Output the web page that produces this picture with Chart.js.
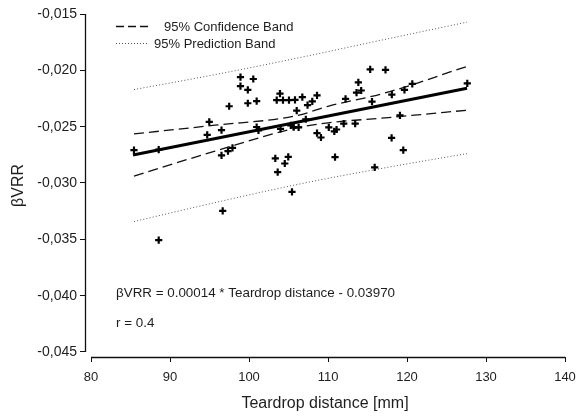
<!DOCTYPE html>
<html>
<head>
<meta charset="utf-8">
<script src="https://cdn.jsdelivr.net/npm/chart.js@4/dist/chart.umd.min.js"></script>
<style>
  html, body { margin: 0; padding: 0; background: #fff; }
  #wrap { width: 578px; height: 418px; position: relative; }
</style>
</head>
<body>
<div id="wrap"><canvas id="c" width="578" height="418"></canvas></div>
<script>
// ---- data ----
const pointX = [85.44, 88.57, 88.57, 94.71, 94.97, 96.52, 96.52, 96.67, 97.34, 97.49,
  97.91, 98.92, 98.92, 99.85, 99.85, 100.54, 100.97, 100.97, 101.20, 103.33,
  103.51, 103.63, 103.92, 103.99, 104.30, 104.53, 104.97, 105.06, 105.29, 105.44,
  105.66, 105.82, 106.04, 106.28, 106.75, 107.19, 107.41, 108.01, 108.61, 108.61,
  109.11, 110.10, 110.80, 110.89, 111.08, 111.99, 112.22, 113.44, 113.61, 113.84,
  114.20, 115.34, 115.57, 115.91, 117.28, 118.08, 118.05, 119.11, 119.53, 119.68,
  120.67, 127.63];
const pointY = [-0.02708, -0.02704, -0.03507, -0.02573, -0.02458, -0.02531, -0.02755, -0.03248, -0.02717, -0.02319,
  -0.02688, -0.02060, -0.02140, -0.02174, -0.02292, -0.02077, -0.02273, -0.02503, -0.02533, -0.02781,
  -0.02264, -0.02903, -0.02206, -0.02520, -0.02264, -0.02827, -0.02768, -0.02264, -0.02489, -0.03078,
  -0.02504, -0.02263, -0.02358, -0.02507, -0.02237, -0.02434, -0.02308, -0.02276, -0.02223, -0.02558,
  -0.02596, -0.02507, -0.02542, -0.02770, -0.02525, -0.02473, -0.02254, -0.02473, -0.02197, -0.02106,
  -0.02179, -0.01991, -0.02277, -0.02861, -0.01996, -0.02215, -0.02599, -0.02400, -0.02708, -0.02173,
  -0.02121, -0.02115];

const fitX = [85.32, 127.6];
const fitY = [-0.02752, -0.02159];

const confX = [85.44, 95.70, 105.95, 110.0, 117.22, 127.6];
const confUpperY = [-0.02564, -0.02487, -0.02404, -0.02319, -0.02201, -0.01965];
const confLowerY = [-0.02938, -0.02717, -0.02513, -0.02466, -0.02422, -0.02354];

const predUpperX = [85.44, 95.70, 105.19, 116.58, 127.6];
const predUpperY = [-0.02171, -0.02038, -0.01905, -0.01735, -0.01572];
const predLowerX = [85.44, 95.70, 106.2, 117.22, 127.6];
const predLowerY = [-0.03342, -0.03174, -0.03012, -0.02865, -0.02739];

const xTicks = [80, 90, 100, 110, 120, 130, 140];
const yTicks = [-0.015, -0.020, -0.025, -0.030, -0.035, -0.040, -0.045];

const legendLabels = ['95% Confidence Band', '95% Prediction Band'];
const equationText = '\u03B2VRR = 0.00014 * Teardrop distance - 0.03970';
const rText = 'r = 0.4';
const xTitle = 'Teardrop distance [mm]';
const yTitle = '\u03B2VRR';

// ---- build ----
const FONT = "'Liberation Sans', Arial, Helvetica, sans-serif";
const TXT = '#1e1e1e';
const zip = (xs, ys) => xs.map((x, i) => ({ x, y: ys[i] }));

const lineDs = (data, opts) => Object.assign({
  data, showLine: true, pointRadius: 0, pointHoverRadius: 0,
  borderColor: '#111', backgroundColor: '#111', fill: false
}, opts);

const axisPlugin = {
  id: 'axisLines',
  afterDraw(chart) {
    const { ctx, scales: { x, y }, chartArea } = chart;
    ctx.save();
    ctx.strokeStyle = '#111';
    ctx.lineWidth = 1.3;
    ctx.beginPath();
    const ax = Math.round(chartArea.left) + 0.5;
    ctx.moveTo(ax, y.getPixelForValue(yTicks[0]));
    ctx.lineTo(ax, y.getPixelForValue(yTicks[yTicks.length - 1]));
    const ay = Math.round(chartArea.bottom) + 0.5;
    ctx.moveTo(x.getPixelForValue(xTicks[0]), ay);
    ctx.lineTo(x.getPixelForValue(xTicks[xTicks.length - 1]), ay);
    ctx.stroke();

    // legend
    ctx.font = '13px ' + FONT;
    ctx.fillStyle = TXT;
    ctx.textBaseline = 'middle';
    ctx.textAlign = 'left';
    ctx.lineWidth = 1.3;
    ctx.setLineDash([8, 4]);
    ctx.beginPath(); ctx.moveTo(116, 26.5); ctx.lineTo(151, 26.5); ctx.stroke();
    ctx.fillText(legendLabels[0], 164, 27);
    ctx.lineWidth = 1;
    ctx.strokeStyle = '#555';
    ctx.setLineDash([1, 2]);
    ctx.beginPath(); ctx.moveTo(116, 43.5); ctx.lineTo(147, 43.5); ctx.stroke();
    ctx.fillText(legendLabels[1], 154, 44);
    ctx.setLineDash([]);

    // annotations
    ctx.font = '13.4px ' + FONT;
    ctx.fillText(equationText, 116, 293);
    ctx.fillText(rText, 116, 323);
    ctx.restore();
  }
};

new Chart(document.getElementById('c'), {
  type: 'scatter',
  data: {
    datasets: [
      {
        data: zip(pointX, pointY), pointStyle: 'cross', radius: 3.6,
        borderWidth: 2.2, borderColor: '#000', backgroundColor: '#000', showLine: false
      },
      lineDs(zip(fitX, fitY), { borderWidth: 3, borderColor: '#000' }),
      lineDs(zip(confX, confUpperY), { borderWidth: 1.3, borderDash: [10, 5], cubicInterpolationMode: 'monotone' }),
      lineDs(zip(confX, confLowerY), { borderWidth: 1.3, borderDash: [10, 5], cubicInterpolationMode: 'monotone' }),
      lineDs(zip(predUpperX, predUpperY), { borderWidth: 1, borderDash: [1, 2.2], borderColor: '#555', cubicInterpolationMode: 'monotone' }),
      lineDs(zip(predLowerX, predLowerY), { borderWidth: 1, borderDash: [1, 2.2], borderColor: '#555', cubicInterpolationMode: 'monotone' })
    ]
  },
  options: {
    responsive: false,
    animation: false,
    events: [],
    layout: { padding: { top: 14, right: 13, left: 0, bottom: 0 } },
    plugins: { legend: { display: false }, tooltip: { enabled: false } },
    scales: {
      x: {
        type: 'linear', position: 'bottom', min: 79.24, max: 140,
        afterBuildTicks: s => { s.ticks = xTicks.map(v => ({ value: v })); },
        afterFit: s => { s.height = 61; s.paddingLeft = 0; s.paddingRight = 0; },
        border: { display: false },
        grid: { display: true, drawOnChartArea: false, drawTicks: true, tickLength: 5, color: '#111', lineWidth: 1 },
        ticks: { font: { family: FONT, size: 13 }, color: TXT, padding: 8, maxRotation: 0, autoSkip: false },
        title: { display: true, text: xTitle, font: { family: FONT, size: 16 }, color: TXT, padding: { top: 0, bottom: 5 } }
      },
      y: {
        type: 'linear', position: 'left', min: -0.045444, max: -0.015,
        afterBuildTicks: s => { s.ticks = yTicks.map(v => ({ value: v })); },
        afterFit: s => { s.width = 85; s.paddingTop = 0; s.paddingBottom = 0; },
        border: { display: false },
        grid: { display: true, drawOnChartArea: false, drawTicks: true, tickLength: 5, color: '#111', lineWidth: 1 },
        ticks: {
          font: { family: FONT, size: 14 }, color: TXT, padding: 3, autoSkip: false,
          callback: v => v.toFixed(3).replace('.', ',')
        },
        title: { display: true, text: yTitle, font: { family: FONT, size: 16 }, color: TXT, padding: { top: 9, bottom: 0 } }
      }
    }
  },
  plugins: [axisPlugin]
});
</script>
</body>
</html>
